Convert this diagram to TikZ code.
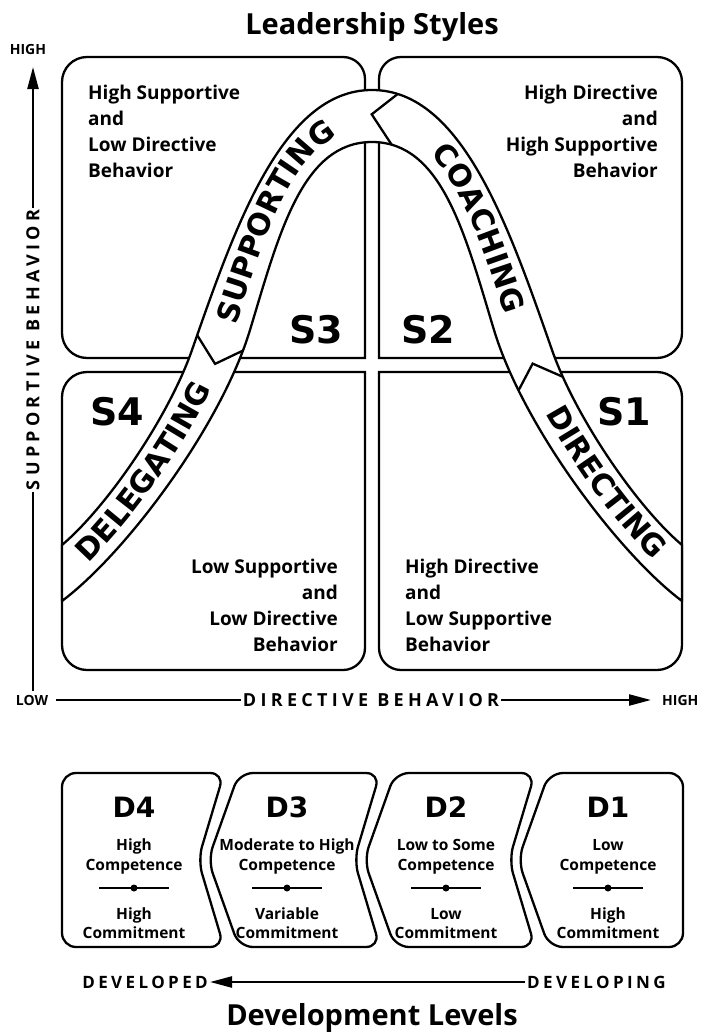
\documentclass[tikz,border=0pt]{standalone}
\usepackage{fontspec}
\setmainfont{Open Sans}
\newfontfamily\dejavu{DejaVu Sans}
\newfontfamily\axisfont{Open Sans}[LetterSpace=24]
\newfontfamily\devfont{Open Sans}[LetterSpace=20]
\usetikzlibrary{arrows.meta,decorations.text,calc}
\newcommand\bandfont{\dejavu\fontsize{30}{30}\selectfont\bfseries}
\tikzset{
  quad/.style={draw=black,line width=2.3pt},
  band/.style={draw=black,fill=white,line width=2.3pt,line join=round},
  chev/.style={draw=black,line width=2.3pt,line join=miter},
  desc/.style={font=\fontsize{19}{26}\selectfont\bfseries,inner sep=0pt},
  slabel/.style={font=\dejavu\fontsize{38}{38}\selectfont\bfseries,inner sep=0pt,anchor=base},
  title/.style={font=\fontsize{29}{29}\selectfont\bfseries,inner sep=0pt,anchor=base},
  axislab/.style={font=\axisfont\fontsize{18}{18}\selectfont\bfseries,inner sep=2pt},
  devlab/.style={font=\devfont\fontsize{17}{17}\selectfont\bfseries,inner sep=2pt},
  endlab/.style={font=\fontsize{14}{14}\selectfont\bfseries,inner sep=1pt},
  axisline/.style={line width=2.3pt,-{Triangle[length=22pt,width=11pt]}},
  dbox/.style={draw=black,line width=2.3pt,rounded corners=14pt},
  dlab/.style={font=\dejavu\fontsize{28}{28}\selectfont\bfseries,inner sep=0pt,anchor=base},
  dtxt/.style={font=\fontsize{15.5}{15.5}\selectfont\bfseries,inner sep=0pt,anchor=base},
  divl/.style={line width=1.4pt},
  bandtext/.style={decorate,decoration={text along path,text={|\bandfont|#1}}},
}
\newcommand\devlevel[6]{%
  \node[dlab] (#2) at (#1,817) {#2};
  \node[dtxt] (#2l1) at (#1,850) {#3};
  \node[dtxt] (#2l2) at (#1,870) {#4};
  \node[dtxt] (#2l3) at (#1,919) {#5};
  \node[dtxt] (#2l4) at (#1,938) {#6};
  \draw[divl] (#1-35,888) -- (#1+35,888);
  \fill (#1,888) circle[radius=3.5];
}
\begin{document}
\begin{tikzpicture}[x=1pt,y=-1pt]
\useasboundingbox (0,0) rectangle (705,1036);
\fill[white] (0,0) rectangle (705,1036);

% title
\node[title] (ttl) at (372,34) {Leadership Styles};

% quadrant boxes
\draw[quad] (365,358) -- (87,358) arc[start angle=90,end angle=180,radius=25]
  -- (62,82) arc[start angle=180,end angle=270,radius=25]
  -- (343,57) arc[start angle=270,end angle=360,radius=22] -- cycle;
\draw[quad] (379,358) -- (379,79) arc[start angle=180,end angle=270,radius=22]
  -- (657,57) arc[start angle=270,end angle=360,radius=25]
  -- (682,333) arc[start angle=0,end angle=90,radius=25] -- cycle;
\draw[quad] (365,372) -- (87,372) arc[start angle=270,end angle=180,radius=25]
  -- (62,645) arc[start angle=180,end angle=90,radius=25]
  -- (343,670) arc[start angle=90,end angle=0,radius=22] -- cycle;
\draw[quad] (379,372) -- (657,372) arc[start angle=270,end angle=360,radius=25]
  -- (682,645) arc[start angle=0,end angle=90,radius=25]
  -- (401,670) arc[start angle=90,end angle=180,radius=22] -- cycle;

% band
\filldraw[band] (62,545) .. controls (108,506) and (169,416) .. (192,350)
  .. controls (235,227) and (282,90) .. coordinate[pos=0.04] (o34) (372,90)
  .. controls (462,90) and (509,227) .. coordinate[pos=0.1] (o23) (552,350)
  .. controls (575,416) and (636,506) .. coordinate[pos=0.13] (o12) (682,545)
  -- (682,601)
  .. controls (618,553) and (523,426) .. coordinate[pos=0.8] (i12) (494,330)
  .. controls (465,234) and (442,142) .. coordinate[pos=0.9] (i23) (372,142)
  .. controls (302,142) and (279,234) .. (250,330)
  .. controls (221,426) and (126,553) .. coordinate[pos=0.07] (i34) (62,601)
  -- cycle;

\draw[chev] (o34) -- ($(o34)!0.5!(i34)+(-5,21)$) -- (i34);
\draw[chev] (o23) -- ($(o23)!0.5!(i23)+(-23,-5)$) -- (i23);
\draw[chev] (o12) -- ($(o12)!0.5!(i12)+(-8,-20)$) -- (i12);

% band words
\path[bandtext=DELEGATING, decoration={text align={left indent=35pt}}]
  (62,586) .. controls (120.6,541) and (205.4,425) .. (232.6,337);
\path[bandtext=SUPPORTING, decoration={text align={left indent=12pt}}]
  (232.6,337) .. controls (265.8,232.5) and (296,127.5) .. (372,127.5);
\path[bandtext=COACHING, decoration={text align={left indent=66pt}}]
  (372,127.5) .. controls (448,127.5) and (478.2,232.5) .. (511.4,337);
\path[bandtext=DIRECTING, decoration={text align={left indent=84pt}}]
  (511.4,337) .. controls (538.6,425) and (623.4,541) .. (682,586);

% style labels
\node[slabel] (s3) at (316,343) {S3};
\node[slabel] (s2) at (428,343) {S2};
\node[slabel] (s4) at (117,425) {S4};
\node[slabel] (s1) at (624,425) {S1};

% descriptions
\node[desc,align=left,anchor=north west] (dtl) at (88,85) {High Supportive\\and\\Low Directive\\Behavior};
\node[desc,align=right,anchor=north east] (dtr) at (658,85) {High Directive\\and\\High Supportive\\Behavior};
\node[desc,align=right,anchor=north east] (dbl) at (338,559) {Low Supportive\\and\\Low Directive\\Behavior};
\node[desc,align=left,anchor=north west] (dbr) at (405,559) {High Directive\\and\\Low Supportive\\Behavior};

% axes
\node[endlab] (hiy) at (28,49) {HIGH};
\node[endlab] (lowx) at (32,700) {LOW};
\node[endlab,anchor=west] (hix) at (661,700) {HIGH};
\coordinate (ybot) at (33,691);
\coordinate (ytop) at (33,67);
\coordinate (xl) at (56,700);
\coordinate (xr) at (651,700);
\draw[axisline] (ybot) -- (ytop);
\draw[axisline] (xl) -- (xr);
\node[axislab,rotate=90,fill=white] (sb) at (33,350) {SUPPORTIVE BEHAVIOR};
\node[axislab,fill=white] (db) at (371,700) {DIRECTIVE BEHAVIOR};

% development level boxes
\draw[dbox] (62,860) -- (62,773) -- (224,773) -- (198,860) -- (224,947) -- (62,947) -- cycle;
\draw[dbox] (300,773) -- (380,773) -- (354,860) -- (380,947) -- (239,947) -- (208,860) -- (239,773) -- cycle;
\draw[dbox] (460,773) -- (535,773) -- (509,860) -- (535,947) -- (395,947) -- (364,860) -- (395,773) -- cycle;
\draw[dbox] (620,773) -- (683,773) -- (683,947) -- (549,947) -- (518,860) -- (549,773) -- cycle;

\devlevel{134}{D4}{High}{Competence}{High}{Commitment}
\devlevel{287}{D3}{Moderate to High}{Competence}{Variable}{Commitment}
\devlevel{446}{D2}{Low to Some}{Competence}{Low}{Commitment}
\devlevel{608}{D1}{Low}{Competence}{High}{Commitment}

% development axis
\node[devlab,anchor=east] (dvd) at (210,982) {DEVELOPED};
\node[devlab,anchor=west] (dvg) at (525,982) {DEVELOPING};
\draw[axisline] (dvg.west) -- (dvd.east);
\node[title] (dl) at (372,1025) {Development Levels};
\end{tikzpicture}
\end{document}
